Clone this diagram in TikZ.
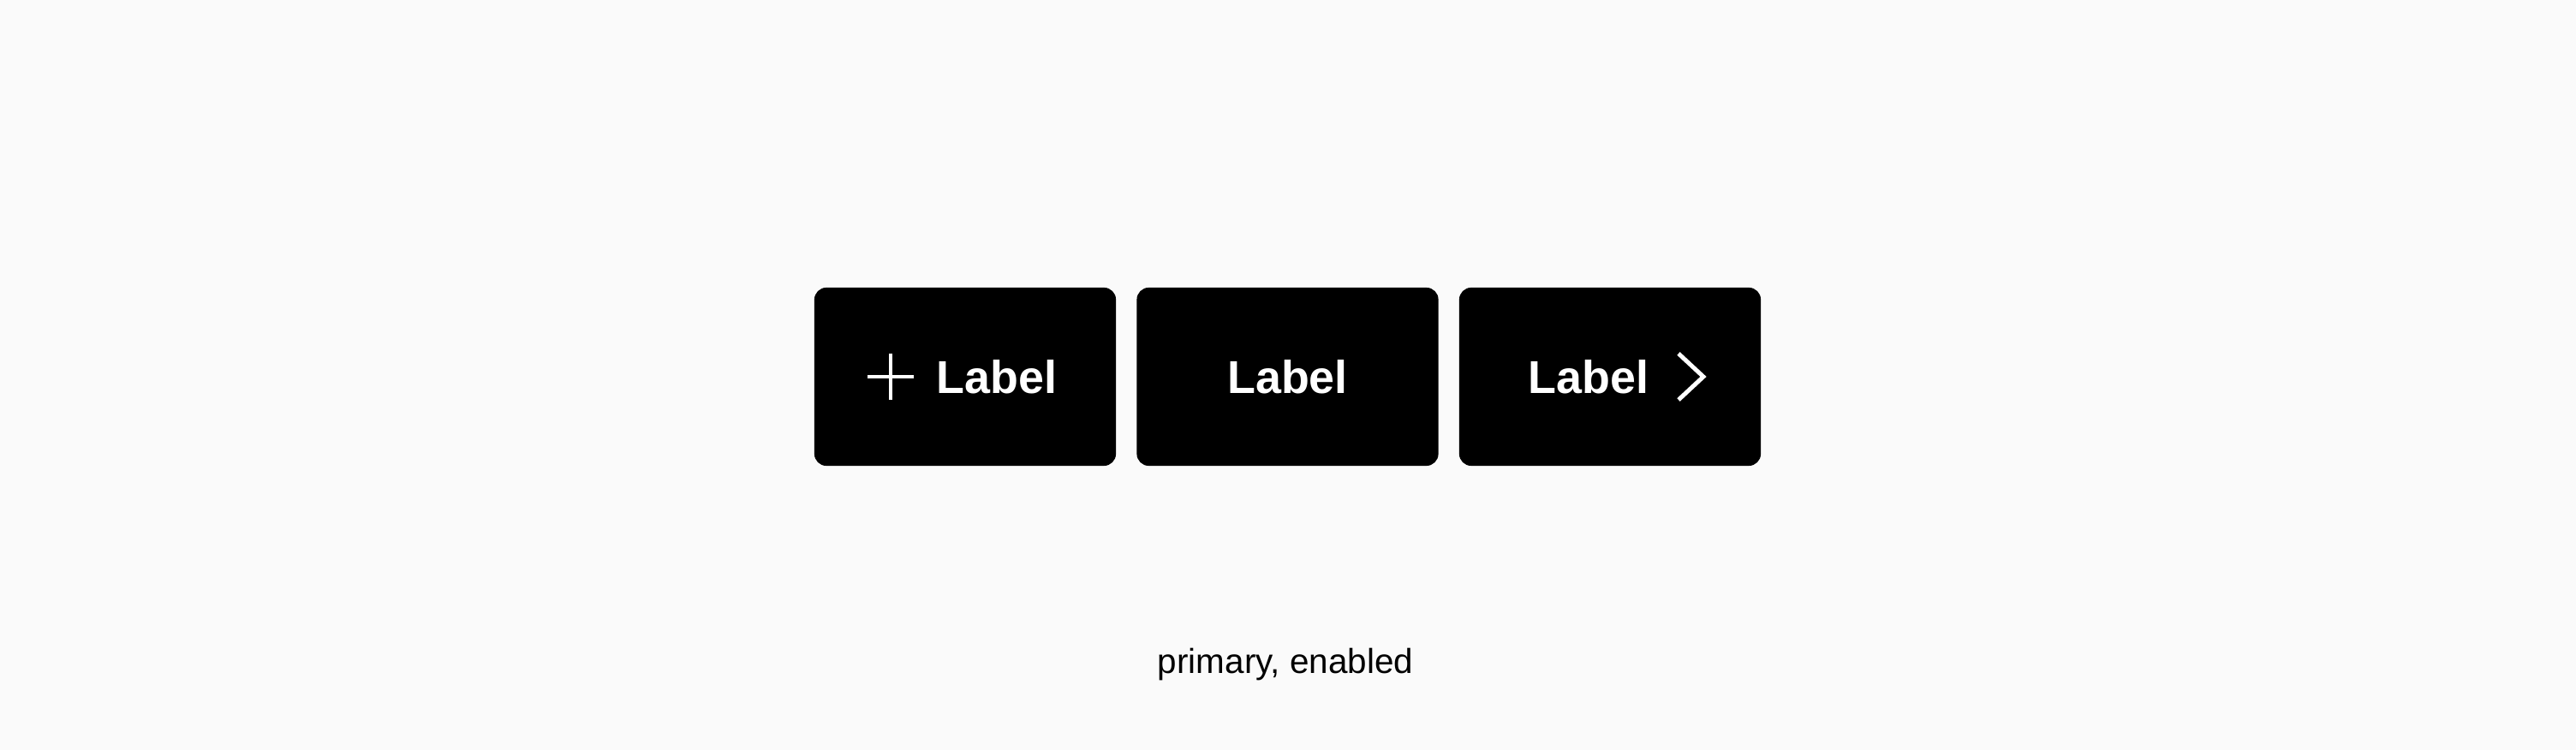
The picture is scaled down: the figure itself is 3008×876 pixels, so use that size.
\documentclass[tikz,border=0pt]{standalone}
\usepackage{fontspec}
\setmainfont{Liberation Sans}
\usetikzlibrary{calc}
\definecolor{pagebg}{HTML}{FAFAFA}
\tikzset{
  button/.style={fill=black, rounded corners=0.14cm, minimum width=3.52cm, minimum height=2.08cm, inner sep=0pt},
  btnlabel/.style={text=white, font=\fontsize{15.3}{17}\selectfont\bfseries, anchor=base, inner sep=0pt},
  icon/.style={white, line width=1.4pt}
}
\begin{document}
\begin{tikzpicture}[x=0.01cm, y=0.01cm]
			%%%%% START %%%%%
			
			\fill[pagebg] (0, 0) rectangle (3008, 876);
			\useasboundingbox (0, 0) rectangle (3008, 876);
			
			\node[button] (btnA) at (1127, 436) {};
			\node[button] (btnB) at (1503.5, 436) {};
			\node[button] (btnC) at (1880, 436) {};
			
			\node[btnlabel] (labA) at (1164, 416) {Label};
			\node[btnlabel] (labB) at (1503.5, 416) {Label};
			\node[btnlabel] (labC) at (1855, 416) {Label};
			
			\coordinate (plus) at (1040, 436);
			\draw[icon] ($(plus)+(-27, 0)$) -- ($(plus)+(27, 0)$);
			\draw[icon] ($(plus)+(0, -27)$) -- ($(plus)+(0, 27)$);
			
			\coordinate (chev) at (1989, 436);
			\draw[icon] ($(chev)+(-29, 27)$) -- (chev) -- ($(chev)+(-29, -27)$);
			
			\node[font=\fontsize{11.5}{13}\selectfont, anchor=base] (caption) at (1501, 89) {primary, enabled};
			
			%%%%% END %%%%%
\end{tikzpicture}
\end{document}
